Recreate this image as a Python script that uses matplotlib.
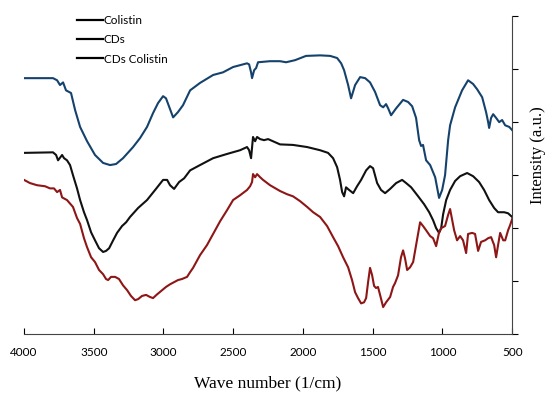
#!/usr/bin/env python3

import numpy as np
import matplotlib
matplotlib.use('Agg')
import matplotlib.pyplot as plt

# FTIR spectra (wavenumber in 1/cm, intensity in a.u.)
colistin_wn = [4000, 3792, 3763, 3742, 3720, 3699, 3663, 3634, 3598, 3548, 3491, 3433, 3383, 3340,
               3290, 3218, 3168, 3118, 3075, 3039, 3003, 2982, 2931, 2896, 2860, 2809, 2738, 2644,
               2573, 2501, 2401, 2386, 2372, 2365, 2350, 2336, 2322, 2236, 2164, 2121, 2056, 1978,
               1877, 1805, 1755, 1726, 1705, 1676, 1655, 1626, 1590, 1554, 1519, 1483, 1447, 1425,
               1404, 1389, 1368, 1332, 1282, 1246, 1217, 1189, 1167, 1153, 1139, 1117, 1088, 1052,
               1024, 1002, 981, 959, 945, 909, 859, 816, 780, 751, 715, 687, 672, 665, 651, 636,
               615, 593, 572, 550, 521, 500]
colistin_int = [4.83, 4.83, 4.79, 4.70, 4.75, 4.60, 4.55, 4.23, 3.91, 3.64, 3.38, 3.23, 3.19, 3.21,
                3.32, 3.53, 3.70, 3.91, 4.17, 4.36, 4.49, 4.45, 4.09, 4.19, 4.32, 4.60, 4.74, 4.89,
                4.94, 5.04, 5.11, 5.09, 4.94, 4.83, 4.98, 5.02, 5.13, 5.15, 5.15, 5.13, 5.17, 5.25,
                5.26, 5.25, 5.21, 5.11, 4.98, 4.70, 4.45, 4.70, 4.85, 4.83, 4.75, 4.57, 4.32, 4.28,
                4.34, 4.26, 4.13, 4.26, 4.42, 4.38, 4.30, 4.08, 3.66, 3.55, 3.57, 3.28, 3.19, 2.96,
                2.57, 2.72, 3.00, 3.66, 3.94, 4.28, 4.60, 4.79, 4.72, 4.62, 4.47, 4.19, 4.00, 3.89,
                4.08, 4.15, 4.08, 4.00, 4.04, 3.94, 3.91, 3.85]

cds_wn = [4000, 3792, 3770, 3756, 3727, 3713, 3692, 3670, 3649, 3620, 3598, 3570, 3548, 3519, 3491,
          3462, 3433, 3412, 3390, 3361, 3333, 3297, 3268, 3240, 3182, 3118, 3060, 3003, 2974, 2953,
          2924, 2888, 2852, 2809, 2738, 2644, 2544, 2451, 2401, 2386, 2372, 2358, 2343, 2329, 2307,
          2279, 2250, 2164, 2071, 1970, 1877, 1820, 1784, 1755, 1734, 1719, 1705, 1691, 1669, 1640,
          1612, 1583, 1547, 1519, 1497, 1468, 1440, 1411, 1375, 1332, 1289, 1260, 1224, 1174, 1131,
          1095, 1067, 1045, 1024, 1009, 995, 973, 945, 909, 873, 823, 780, 737, 701, 665, 629, 601,
          557, 529, 500]
cds_int = [3.42, 3.43, 3.38, 3.28, 3.38, 3.32, 3.28, 3.19, 3.00, 2.75, 2.53, 2.30, 2.15, 1.92, 1.77,
           1.62, 1.55, 1.57, 1.62, 1.77, 1.91, 2.04, 2.11, 2.21, 2.38, 2.53, 2.72, 2.91, 2.91, 2.81,
           2.74, 2.87, 2.94, 3.09, 3.19, 3.32, 3.40, 3.47, 3.53, 3.47, 3.32, 3.72, 3.64, 3.72, 3.68,
           3.66, 3.68, 3.58, 3.57, 3.53, 3.47, 3.42, 3.32, 3.15, 2.91, 2.68, 2.60, 2.77, 2.72, 2.66,
           2.79, 2.91, 3.09, 3.17, 3.13, 2.85, 2.72, 2.66, 2.74, 2.85, 2.91, 2.85, 2.77, 2.60, 2.45,
           2.30, 2.15, 2.00, 1.91, 2.00, 2.26, 2.53, 2.72, 2.89, 2.98, 3.04, 2.98, 2.87, 2.72, 2.53,
           2.38, 2.30, 2.30, 2.28, 2.21]

cdscol_wn = [4000, 3957, 3907, 3849, 3814, 3785, 3763, 3742, 3727, 3692, 3649, 3620, 3598, 3570,
             3548, 3519, 3491, 3462, 3433, 3412, 3397, 3376, 3347, 3319, 3290, 3261, 3233, 3204,
             3182, 3154, 3125, 3096, 3075, 3046, 3010, 2982, 2953, 2924, 2896, 2867, 2831, 2809,
             2788, 2738, 2688, 2644, 2594, 2544, 2501, 2451, 2401, 2379, 2365, 2358, 2343, 2329,
             2307, 2286, 2236, 2164, 2114, 2071, 2021, 1970, 1927, 1877, 1827, 1784, 1748, 1712,
             1676, 1648, 1626, 1605, 1583, 1562, 1547, 1533, 1519, 1504, 1490, 1476, 1462, 1447,
             1425, 1404, 1375, 1354, 1340, 1318, 1297, 1282, 1268, 1253, 1232, 1210, 1189, 1160,
             1139, 1117, 1088, 1067, 1045, 1024, 1009, 981, 959, 945, 930, 916, 895, 873, 852, 830,
             816, 787, 766, 744, 723, 694, 672, 651, 629, 615, 601, 586, 564, 550, 529, 514, 500]
cdscol_int = [2.91, 2.85, 2.81, 2.79, 2.75, 2.75, 2.68, 2.72, 2.58, 2.53, 2.40, 2.19, 2.08, 1.81,
              1.64, 1.45, 1.36, 1.21, 1.13, 1.04, 1.02, 1.08, 1.08, 1.04, 0.92, 0.83, 0.72, 0.64,
              0.66, 0.72, 0.74, 0.70, 0.68, 0.75, 0.83, 0.89, 0.94, 0.98, 1.02, 1.04, 1.08, 1.17,
              1.25, 1.49, 1.68, 1.89, 2.13, 2.34, 2.53, 2.62, 2.72, 2.79, 2.87, 3.02, 2.96, 3.02,
              2.96, 2.91, 2.81, 2.70, 2.64, 2.60, 2.51, 2.40, 2.30, 2.21, 2.04, 1.83, 1.66, 1.45,
              1.26, 1.02, 0.79, 0.68, 0.58, 0.60, 0.68, 0.98, 1.25, 1.11, 0.91, 0.87, 0.89, 0.74,
              0.51, 0.60, 0.70, 0.89, 0.96, 1.11, 1.45, 1.58, 1.43, 1.21, 1.26, 1.36, 1.68, 2.11,
              2.04, 1.96, 1.85, 1.81, 1.66, 1.92, 2.00, 2.04, 2.25, 2.36, 2.15, 1.96, 1.77, 1.85,
              1.77, 1.53, 1.89, 1.91, 1.89, 1.57, 1.74, 1.77, 1.81, 1.83, 1.68, 1.45, 1.68, 1.91,
              1.77, 1.77, 1.96, 2.06, 2.17]

labels = ['Colistin', 'CDs', 'CDs Colistin']
xticks = [4000, 3500, 3000, 2500, 2000, 1500, 1000, 500]

fig = plt.figure(figsize=(5.46, 3.94), dpi=100, facecolor='white')
ax = fig.add_axes([0.044, 0.152, 0.894, 0.807])

ax.plot(colistin_wn, colistin_int, color='#15426c', lw=1.5)
ax.plot(cds_wn, cds_int, color='#111111', lw=1.5)
ax.plot(cdscol_wn, cdscol_int, color='#8e1616', lw=1.5)

# legend handles are plain black in the original
handles = [ax.plot([], [], color='black', lw=1.6)[0] for lab in labels]
ax.legend(handles, labels, loc='upper left', bbox_to_anchor=(0.086, 1.037), frameon=False,
          handlelength=2.2, handletextpad=0.1, labelspacing=0.7,
          prop={'family': 'Lato', 'size': 8.5})

ax.set_xlim(4000, 500)
ax.set_ylim(0, 6)
ax.set_xticks(xticks)
ax.set_xticklabels([str(t) for t in xticks], fontsize=8.5, family='Lato')
ax.tick_params(axis='x', direction='in', length=4, pad=9, width=0.8)

ax.yaxis.tick_right()
ax.set_yticks(range(0, 7))
ax.set_yticklabels([])
ax.tick_params(axis='y', direction='out', length=4, width=0.8)

ax.spines['left'].set_visible(False)
ax.spines['top'].set_visible(False)
ax.spines['right'].set_linewidth(0.8)
ax.spines['bottom'].set_linewidth(0.8)
ax.spines['right'].set_color('#444444')
ax.spines['bottom'].set_color('#444444')

ax.set_xlabel('Wave number (1/cm)', family='Liberation Serif', fontsize=12.5, labelpad=13)
ax.text(1.053, 0.563, 'Intensity (a.u.)', transform=ax.transAxes, rotation=90,
        ha='center', va='center', family='Liberation Serif', fontsize=12)

plt.savefig('out.png', dpi=100, facecolor=fig.get_facecolor())
